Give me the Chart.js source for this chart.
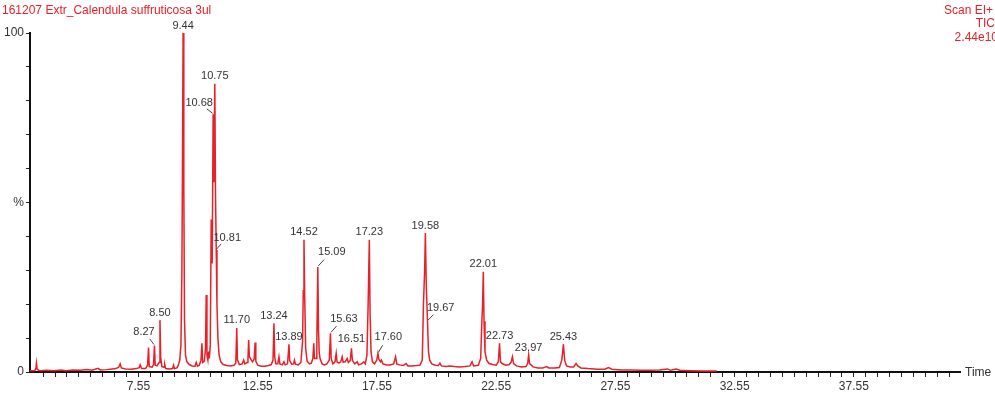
<!DOCTYPE html>
<html><head><meta charset="utf-8">
<script src="https://cdn.jsdelivr.net/npm/chart.js@4.4.1/dist/chart.umd.min.js"></script>
<style>html,body{margin:0;padding:0;background:#fff;overflow:hidden}#wrap{width:995px;height:395px;position:relative}</style>
</head><body><div id="wrap"><canvas id="c" width="995" height="395"></canvas></div>
<script>
// ---- data ----
const retentionTimes = [
3.00,3.20,3.25,3.27,3.30,3.40,3.70,4.00,4.30,4.50,4.80,5.10,5.40,5.60,5.85,5.95,6.20,6.45,6.60,6.72,6.78,6.83,7.00,7.25,7.45,7.58,7.62,7.68,7.85,7.93,7.97,8.00,8.12,8.18,8.22,8.25,8.33,8.41,8.45,8.48,8.53,8.62,8.65,8.69,8.85,8.98,9.02,9.06,9.16,9.22,9.28,9.33,9.37,9.39,9.42,9.45,9.48,9.52,9.58,9.68,9.80,9.92,9.97,10.02,10.10,10.17,10.21,10.24,10.31,10.36,10.39,10.42,10.46,10.49,10.52,10.56,10.60,10.64,10.68,10.71,10.75,10.78,10.81,10.84,10.88,10.93,11.00,11.10,11.25,11.40,11.55,11.63,11.67,11.70,11.78,11.90,11.96,12.01,12.10,12.14,12.17,12.20,12.26,12.33,12.40,12.44,12.47,12.55,12.70,12.85,13.00,13.12,13.19,13.23,13.26,13.31,13.39,13.44,13.48,13.58,13.65,13.70,13.80,13.86,13.89,13.97,14.05,14.09,14.13,14.25,14.36,14.43,14.46,14.49,14.52,14.56,14.62,14.72,14.80,14.86,14.90,14.93,15.00,15.03,15.07,15.10,15.13,15.17,15.25,15.35,15.45,15.55,15.60,15.63,15.70,15.79,15.84,15.88,15.96,16.03,16.09,16.13,16.22,16.30,16.35,16.43,16.48,16.52,16.62,16.72,16.78,16.90,17.00,17.06,17.13,17.18,17.23,17.26,17.30,17.36,17.45,17.54,17.59,17.63,17.70,17.74,17.80,17.95,18.10,18.25,18.33,18.38,18.50,18.65,18.77,18.85,19.00,19.20,19.35,19.45,19.50,19.55,19.58,19.62,19.67,19.71,19.76,19.85,20.00,20.12,20.19,20.25,20.45,20.60,20.80,21.00,21.25,21.45,21.54,21.60,21.80,21.90,21.95,21.98,22.01,22.04,22.08,22.15,22.25,22.40,22.55,22.64,22.69,22.73,22.80,22.95,23.10,23.18,23.23,23.28,23.40,23.60,23.80,23.87,23.91,23.95,24.10,24.30,24.50,24.67,24.75,25.00,25.20,25.30,25.37,25.42,25.50,25.65,25.80,25.90,25.97,26.10,26.40,26.80,27.10,27.26,27.40,27.80,28.20,28.60,29.00,29.40,29.74,29.85,30.10,30.25,30.70,31.20,31.80
];
const ticPercent = [
0.4,0.4,1.2,2.6,0.8,0.4,0.5,0.4,0.6,0.4,0.6,0.5,0.7,0.5,1.1,0.6,0.7,0.9,1.0,1.4,2.4,1.2,0.9,0.8,1.0,1.3,2.1,1.0,1.0,2.0,7.2,1.6,1.4,2.2,7.8,2.0,1.8,2.8,15.3,4.5,1.6,1.4,2.2,1.0,0.9,1.0,2.0,1.0,1.2,2.0,3.5,8,30,55,100,55,15,5,3,2.2,1.8,1.7,2.8,1.7,2.0,3.5,8.5,2.8,3.2,7,22.7,5,3.5,6.0,4,8,45,32,76,56,85,52,36,20,10,5,3,2.2,1.9,1.8,2.0,2.6,13,3.5,2.2,2.4,3.5,2.4,2.8,4,9.4,4.5,3.8,3.0,3.8,8.7,3.2,2.0,1.7,1.7,1.9,2.2,3.5,14.4,4.5,2.4,2.4,4.5,2.4,2.1,3.0,2.1,2.4,8.2,3.4,2.3,2.4,3.5,2.3,2.1,2.8,9,24,39,22,7,3.2,2.4,2.6,4,8.5,4,4,10,31,12,5.5,3.8,2.4,2.1,2.4,3.5,11.4,4,2.4,3.0,5.5,2.9,2.7,3.0,4.5,2.9,3.0,4.0,2.8,3.4,7,3.4,2.4,3.0,2.1,2.4,3.0,2.4,5,20,39,18,6,3,2.4,3.5,5.5,3.8,3.0,3.5,2.4,2.1,2.1,2.4,4.5,2.4,2.1,1.9,2.5,1.8,1.8,1.9,2.0,3.5,20,30,41,25,15,6,3.5,2.4,2.0,1.9,2.6,1.8,1.6,1.8,1.6,1.5,1.6,1.8,3.0,1.8,2.0,4,15,20,29.6,15,6,3.5,2.5,2.2,2.0,3,8.5,3,2.5,2.0,2.2,3,4.5,2.5,1.8,1.5,1.6,2.5,5,2.5,1.5,1.2,1.2,1.6,1.2,1.2,1.3,3.5,8.2,3.5,1.8,1.5,1.5,2.5,1.8,1.2,1.0,0.8,0.8,1.3,0.8,0.6,0.6,0.5,0.5,0.6,0.9,0.5,0.9,0.5,0.4,0.3,0.3
];
const peakLabels  = ['8.27','8.50','9.44','10.68','10.75','10.81','11.70','13.24','13.89','14.52','15.09','15.63','16.51','17.23','17.60','19.58','19.67','22.01','22.73','23.97','25.43'];
const peakTimes   = [8.22,8.45,9.42,10.68,10.75,10.81,11.67,13.23,13.86,14.49,15.07,15.60,16.48,17.23,17.59,19.58,19.67,22.01,22.69,23.91,25.37];
const peakHeights = [7.8,15.3,100,76,85,36,13,14.4,8.2,39,31,11.4,7,39,5.5,41,15,29.6,8.5,5,8.2];
const xTickLabels = ['7.55','12.55','17.55','22.55','27.55','32.55','37.55'];
const yTickLabels = {0:'0', 50:'%', 100:'100'};

// ---- layout / style (kept separate from data) ----
const labelOffsets = [[-10.5,-13.3],null,null,[-14,-11],null,[11,-12],null,null,null,null,[14,-14.6],[13.5,-14.4],[0,-9],null,[10.4,-16],null,[13.2,-13],null,null,null,null];
const RED = 'rgb(232,32,40)';
const INK = '#333';
const FONT = '"Liberation Sans", Arial, sans-serif';

const minorTicks = [];
for (let v = 3.55; v < 42; v += 0.5) minorTicks.push(Math.round(v * 100) / 100);
const yTicks = [];
for (let v = 0; v <= 100; v += 10) yTicks.push(v);

const overlay = {
  id: 'overlay',
  afterDraw(chart) {
    const {ctx, scales: {x, y}} = chart;
    ctx.save();
    ctx.font = '11px ' + FONT;
    ctx.fillStyle = INK; ctx.strokeStyle = '#444'; ctx.lineWidth = 1;
    ctx.textAlign = 'center'; ctx.textBaseline = 'middle';
    peakLabels.forEach((lab, i) => {
      const px = x.getPixelForValue(peakTimes[i]);
      const py = y.getPixelForValue(peakHeights[i]);
      const off = labelOffsets[i];
      const dx = off ? off[0] : 0, dy = off ? off[1] : -7.5;
      ctx.fillText(lab, px + dx, py + dy);
      if (off && dx !== 0) {
        ctx.beginPath();
        ctx.moveTo(px + dx * 0.45, py + dy * 0.5);
        ctx.lineTo(px + Math.sign(dx) * 0.5, py - 1);
        ctx.stroke();
      }
    });
    ctx.font = '12px ' + FONT;
    ctx.fillStyle = RED;
    ctx.textBaseline = 'alphabetic';
    ctx.textAlign = 'left';
    ctx.fillText('161207 Extr_Calendula suffruticosa 3ul', 2, 14);
    ctx.textAlign = 'right';
    ctx.fillText('Scan EI+', 993, 14);
    ctx.fillText('TIC', 995, 27);
    ctx.fillText('2.44e10', 998, 41);
    ctx.fillStyle = INK;
    ctx.textAlign = 'left'; ctx.textBaseline = 'middle';
    ctx.fillText('Time', 965, y.getPixelForValue(0) + 1);
    ctx.restore();
  }
};

new Chart(document.getElementById('c'), {
  type: 'line',
  data: {
    datasets: [{
      data: retentionTimes.map((t, i) => ({x: t, y: ticPercent[i]})),
      borderColor: RED, borderWidth: 1.5, pointRadius: 0, tension: 0, fill: false
    }]
  },
  options: {
    responsive: false, animation: false, devicePixelRatio: 1,
    layout: {padding: {top: 33, right: 35, left: 0, bottom: 0}},
    plugins: {legend: {display: false}, tooltip: {enabled: false}},
    scales: {
      x: {
        type: 'linear', min: 3.0, max: 42.0,
        afterBuildTicks(axis) { axis.ticks = minorTicks.map(v => ({value: v})); },
        afterFit(s) { s.height = 23; },
        ticks: {
          autoSkip: false, maxRotation: 0, minRotation: 0, padding: 2, color: INK,
          font: {family: FONT, size: 12},
          callback(v) { const m = xTickLabels.find(l => Math.abs(parseFloat(l) - v) < 1e-6); return m || ''; }
        },
        grid: {drawOnChartArea: false, drawTicks: true, tickLength: 5, tickColor: '#222', tickWidth: 1},
        border: {display: true, color: '#111', width: 2}
      },
      y: {
        min: 0, max: 100,
        afterBuildTicks(axis) { axis.ticks = yTicks.map(v => ({value: v})); },
        afterFit(s) { s.width = 30; },
        ticks: {
          autoSkip: false, padding: 2, color: INK, font: {family: FONT, size: 12},
          callback(v) { return yTickLabels[v] !== undefined ? yTickLabels[v] : ''; }
        },
        grid: {drawOnChartArea: false, drawTicks: true, tickLength: 4, tickColor: '#222', tickWidth: 1},
        border: {display: true, color: '#111', width: 2}
      }
    }
  },
  plugins: [overlay]
});
</script>
</body></html>
